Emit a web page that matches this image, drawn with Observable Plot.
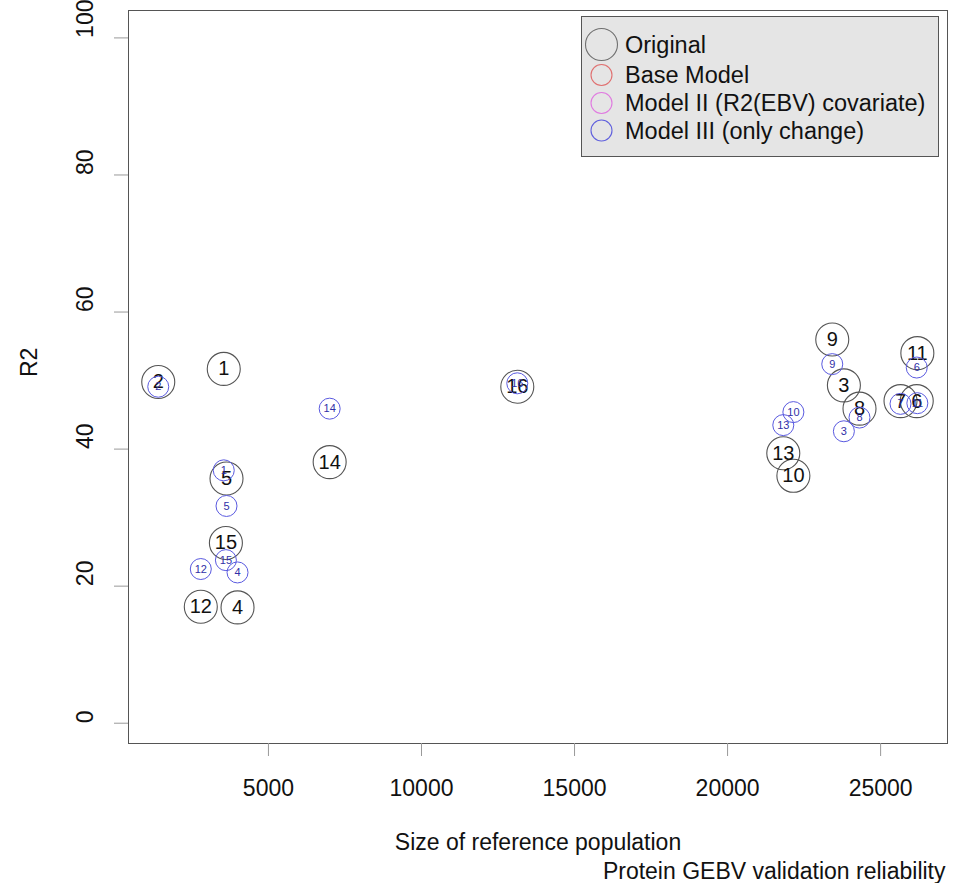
<!DOCTYPE html>
<html>
<head>
<meta charset="utf-8">
<script src="https://cdn.jsdelivr.net/npm/d3@7"></script>
<script src="https://cdn.jsdelivr.net/npm/@observablehq/plot@0.6"></script>
<style>
  html, body { margin: 0; padding: 0; background: #fff; }
  #wrap { position: relative; width: 955px; height: 883px; font-family: "Liberation Sans", Arial, sans-serif; }
  #legend { position: absolute; left: 581px; top: 16px; }
</style>
</head>
<body>
<div id="wrap"><div id="chart"></div><div id="legend"></div></div>
<script>
// Sample ids (labels), reference population size, and R2 values
const ids        = [1, 2, 3, 4, 5, 6, 7, 8, 9, 10, 11, 12, 13, 14, 15, 16];
const refSize    = [3540, 1400, 23800, 3990, 3630, 26180, 25650, 24310, 23420, 22150, 26200, 2790, 21820, 7000, 3610, 13130];
const r2Original = [51.7, 49.8, 49.3, 16.9, 35.7, 47.0, 47.0, 45.9, 56.0, 36.1, 54.0, 17.0, 39.4, 38.1, 26.3, 49.1];
const r2ModelIII = [36.9, 49.1, 42.6, 22.0, 31.7, 51.9, 46.6, 44.6, 52.4, 45.4, 46.7, 22.5, 43.5, 45.9, 23.8, 49.6];

const xTicks = [5000, 10000, 15000, 20000, 25000];
const yTicks = [0, 20, 40, 60, 80, 100];

const legendNames  = ["Original", "Base Model", "Model II (R2(EBV) covariate)", "Model III (only change)"];
const legendColors = ["#707070", "#e07070", "#e07ae0", "#6060dd"];

const original = ids.map((id, i) => ({id, x: refSize[i], y: r2Original[i]}));
const modelIII = ids.map((id, i) => ({id, x: refSize[i], y: r2ModelIII[i]}));

const font = "Liberation Sans, Arial, sans-serif";

const chart = Plot.plot({
  width: 955,
  height: 883,
  marginLeft: 128,
  marginRight: 8,
  marginTop: 10,
  marginBottom: 140,
  style: {fontFamily: font, background: "#fff"},
  x: {domain: [428, 27185]},
  y: {domain: [-2.96, 104.0]},
  marks: [
    Plot.frame({stroke: "#555", strokeWidth: 1}),
    Plot.axisX({ticks: xTicks, tickSize: 13, tickPadding: 23, fontSize: 23, label: null, stroke: "#999", fill: "#111", tickFormat: d => String(d)}),
    Plot.axisY({ticks: yTicks, tickSize: 14, label: null, stroke: "#999", tickFormat: () => ""}),
    Plot.text(yTicks, {y: d => d, text: d => String(d), frameAnchor: "left", dx: -43, rotate: -90, fontSize: 23, fill: "#111"}),
    Plot.text(["R2"], {text: d => d, frameAnchor: "left", dx: -99, rotate: -90, fontSize: 23, fill: "#111"}),
    Plot.text(["Size of reference population"], {text: d => d, frameAnchor: "bottom", dy: 106, fontSize: 23, fill: "#111"}),
    Plot.text(["Protein GEBV validation reliability"], {text: d => d, frameAnchor: "bottom-right", textAnchor: "end", dy: 135, dx: -2, fontSize: 23, fill: "#111"}),
    Plot.dot(original, {x: "x", y: "y", r: 16.5, stroke: "#555", strokeWidth: 1.1, fill: "none"}),
    Plot.text(original, {x: "x", y: "y", text: d => String(d.id), fontSize: 20, fill: "#111"}),
    Plot.dot(modelIII, {x: "x", y: "y", r: 10.5, stroke: "#5a5ae0", strokeWidth: 1, fill: "none"}),
    Plot.text(modelIII, {x: "x", y: "y", text: d => String(d.id), fontSize: 11, fill: "#3030a8"})
  ]
});
document.getElementById("chart").appendChild(chart);

// Legend box (drawn as overlay inside the plotting area, like the original)
const lg = d3.select("#legend").append("svg")
  .attr("width", 359).attr("height", 142)
  .style("font-family", font);
lg.append("rect").attr("x", 0.5).attr("y", 0.5).attr("width", 357).attr("height", 140)
  .attr("fill", "#e5e5e5").attr("stroke", "#555");
const rowY = [28.5, 59, 87, 114.5];
legendNames.forEach((name, i) => {
  lg.append("circle").attr("cx", 20.5).attr("cy", rowY[i]).attr("r", i === 0 ? 16 : 10.5)
    .attr("fill", "none").attr("stroke", legendColors[i]).attr("stroke-width", 1.1);
  lg.append("text").attr("x", 44).attr("y", rowY[i]).attr("dy", "0.35em")
    .attr("font-size", 23.5).attr("fill", "#111").text(name);
});
</script>
</body>
</html>
